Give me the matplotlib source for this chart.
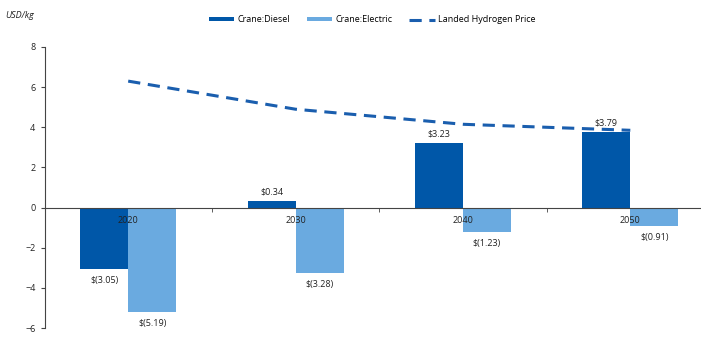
import matplotlib
matplotlib.use("Agg")
import matplotlib.pyplot as plt
import numpy as np

years = ["2020", "2030", "2040", "2050"]
diesel = [-3.05, 0.34, 3.23, 3.79]
electric = [-5.19, -3.28, -1.23, -0.91]
hydrogen = [6.3, 4.9, 4.15, 3.85]

c_diesel = "#0057A8"
c_elec = "#6AAAE0"
c_line = "#1A5EAE"

plt.rcParams['font.family'] = ['Open Sans', 'DejaVu Sans']

fig = plt.figure(figsize=(7.01, 3.37), dpi=100)
W, H = 701, 337
x0, x1 = 44.5, 714
ytop, ybot = 47, 328
ax = fig.add_axes([x0 / W, 1 - ybot / H, (x1 - x0) / W, (ybot - ytop) / H])

x = np.arange(len(years))
bw = 0.287
bd = ax.bar(x - bw / 2, diesel, bw, color=c_diesel, label="Crane:Diesel")
be = ax.bar(x + bw / 2, electric, bw, color=c_elec, label="Crane:Electric")
ln, = ax.plot(x, hydrogen, color=c_line, lw=2.2, ls=(0, (4, 2.5)), label="Landed Hydrogen Price")

def fmt(v):
    return f"$({abs(v):.2f})" if v < 0 else f"${v:.2f}"

for bars, vals in ((bd, diesel), (be, electric)):
    for b, v in zip(bars, vals):
        cx = b.get_x() + b.get_width() / 2
        if v >= 0:
            ax.annotate(fmt(v), (cx, v), xytext=(0, 3), textcoords="offset points",
                        ha="center", va="bottom", fontsize=6.5, color="#222222")
        else:
            ax.annotate(fmt(v), (cx, v), xytext=(0, -5), textcoords="offset points",
                        ha="center", va="top", fontsize=6.5, color="#222222")

ax.set_xlim(-0.5, len(years) - 0.5)
ax.set_ylim(-6, 8)
ax.set_yticks(range(-6, 9, 2))
ax.set_xticks(x)
ax.set_xticklabels(years)
ax.set_xticks(np.arange(0.5, len(years) - 0.5, 1), minor=True)
ax.tick_params(axis="x", which="major", length=0, pad=6, labelsize=6.5, colors="#222222")
ax.tick_params(axis="x", which="minor", length=3, direction="out", color="#444444")
ax.tick_params(axis="y", length=3, direction="out", labelsize=6.5, colors="#222222", color="#444444")
ax.spines["bottom"].set_position(("data", 0))
ax.spines["bottom"].set_color("#444444")
ax.spines["left"].set_color("#444444")
ax.spines["top"].set_visible(False)
ax.spines["right"].set_visible(False)
for lbl in ax.get_xticklabels():
    lbl.set_zorder(5)

fig.text(5 / W, 1 - 15 / H, "USD/kg", fontsize=6.5, style="italic", va="center", ha="left", color="#222222")
fig.legend(handles=[bd, be, ln], loc="center", bbox_to_anchor=(372 / W, 1 - 20 / H), ncol=3,
           frameon=False, fontsize=6.5, handlelength=2.8, handleheight=0.35, columnspacing=1.9,
           handletextpad=0.35)

fig.savefig("out.png", dpi=100)
